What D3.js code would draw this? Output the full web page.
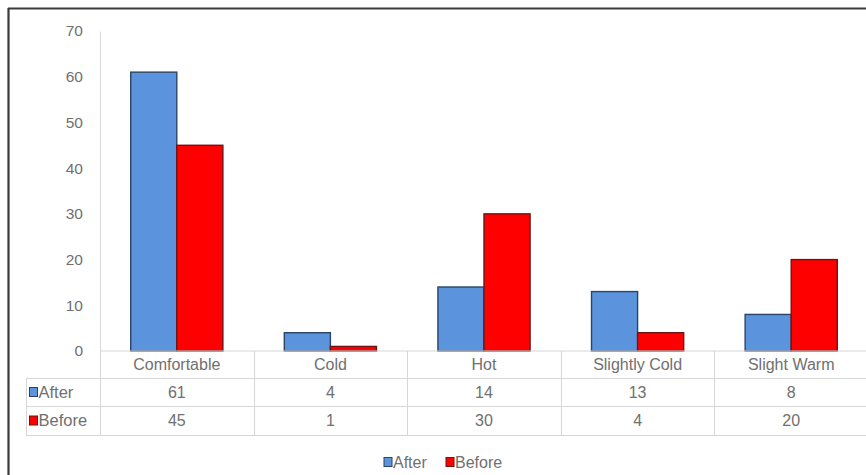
<!DOCTYPE html>
<html>
<head>
<meta charset="utf-8">
<script src="https://cdn.jsdelivr.net/npm/d3@7"></script>
<style>
html,body{margin:0;padding:0;background:#fff;overflow:hidden;}
svg{display:block;}
text{font-family:"Liberation Sans",Arial,sans-serif;fill:#707070;}
</style>
</head>
<body>
<svg id="chart" width="866" height="475"></svg>
<script>
const categories = ["Comfortable", "Cold", "Hot", "Slightly Cold", "Slight Warm"];
const seriesNames = ["After", "Before"];
const afterValues = [61, 4, 14, 13, 8];
const beforeValues = [45, 1, 30, 4, 20];
const yTicks = [0, 10, 20, 30, 40, 50, 60, 70];
const seriesColors = ["#5b93dc", "#ff0000"];
const seriesStrokes = ["#2b4567", "#6e1414"];

const seriesValues = [afterValues, beforeValues];

const svg = d3.select("#chart");
const W = 866, H = 475;

const plotLeft = 100, plotRight = 868, plotTop = 31, plotBottom = 351;
const tableLeft = 26;
const rowH = [27, 28, 29]; // category row, After row, Before row

const y = d3.scaleLinear().domain([0, 70]).range([plotBottom, plotTop]);
const x0 = d3.scaleBand().domain(categories).range([plotLeft, plotRight]).padding(0);
const bw = x0.bandwidth();
const x1 = d3.scaleBand().domain(seriesNames).range([bw * 0.2, bw * 0.8]).padding(0);

// outer frame
svg.append("line").attr("x1", 8).attr("x2", W).attr("y1", 8.5).attr("y2", 8.5)
  .attr("stroke", "#3a3a3a").attr("stroke-width", 2.2);
svg.append("line").attr("x1", 8.5).attr("x2", 8.5).attr("y1", 8).attr("y2", H)
  .attr("stroke", "#3a3a3a").attr("stroke-width", 2.2);

// y axis
const yAxis = d3.axisLeft(y).tickValues(yTicks).tickSize(0).tickPadding(17);
const gy = svg.append("g").attr("transform", `translate(${plotLeft},0)`).call(yAxis);
gy.select(".domain").attr("stroke", "#d9d9d9");
gy.selectAll("text").style("font-size", "15.5px").attr("fill", "#707070")
  .style("font-family", "'Liberation Sans', Arial, sans-serif");

// bars
const groups = svg.append("g").selectAll("g")
  .data(categories).join("g")
  .attr("transform", d => `translate(${x0(d)},0)`);

groups.selectAll("rect")
  .data((d, i) => seriesNames.map((s, j) => ({ s, j, v: seriesValues[j][i] })))
  .join("rect")
  .attr("x", d => x1(d.s))
  .attr("width", x1.bandwidth())
  .attr("y", d => y(d.v))
  .attr("height", d => y(0) - y(d.v))
  .attr("fill", d => seriesColors[d.j])
  .attr("stroke", d => seriesStrokes[d.j])
  .attr("stroke-width", 1.4);

// data table
const tg = svg.append("g");
const lineColor = "#d6d6d6";
const r0 = plotBottom, r1 = r0 + rowH[0], r2 = r1 + rowH[1], r3 = r2 + rowH[2];

tg.append("line").attr("x1", plotLeft).attr("x2", plotRight).attr("y1", r0).attr("y2", r0).attr("stroke", lineColor);
[r1, r2, r3].forEach(yy => {
  tg.append("line").attr("x1", tableLeft).attr("x2", plotRight).attr("y1", yy + 0.5).attr("y2", yy + 0.5).attr("stroke", lineColor);
});
tg.append("line").attr("x1", tableLeft + 0.5).attr("x2", tableLeft + 0.5).attr("y1", r1).attr("y2", r3).attr("stroke", lineColor);
categories.forEach(c => {
  const xx = Math.round(x0(c)) + 0.5;
  tg.append("line").attr("x1", xx).attr("x2", xx).attr("y1", r0).attr("y2", r3).attr("stroke", lineColor);
});

const fs = "16px";
tg.selectAll(".cat").data(categories).join("text")
  .attr("class", "cat")
  .attr("x", d => x0(d) + bw / 2)
  .attr("y", (r0 + r1) / 2 + 5.5)
  .attr("text-anchor", "middle")
  .style("font-size", fs)
  .text(d => d);

const rowMid = [(r1 + r2) / 2, (r2 + r3) / 2];
seriesNames.forEach((s, j) => {
  tg.append("rect").attr("x", 29.5).attr("y", rowMid[j] - 4.5).attr("width", 8).attr("height", 9)
    .attr("fill", seriesColors[j]).attr("stroke", seriesStrokes[j]).attr("stroke-width", 1);
  tg.append("text").attr("x", 38.5).attr("y", rowMid[j] + 5.5)
    .style("font-size", "16.5px").text(s);
  tg.selectAll(".v" + j).data(categories).join("text")
    .attr("class", "v" + j)
    .attr("x", d => x0(d) + bw / 2)
    .attr("y", rowMid[j] + 5.5)
    .attr("text-anchor", "middle")
    .style("font-size", fs)
    .text((d, i) => seriesValues[j][i]);
});

// legend
const lg = svg.append("g");
const legendX = [384, 446];
seriesNames.forEach((s, j) => {
  lg.append("rect").attr("x", legendX[j]).attr("y", 457.5).attr("width", 8).attr("height", 9)
    .attr("fill", seriesColors[j]).attr("stroke", seriesStrokes[j]).attr("stroke-width", 1);
  lg.append("text").attr("x", legendX[j] + 9).attr("y", 467.5)
    .style("font-size", "16px").text(s);
});
</script>
</body>
</html>
